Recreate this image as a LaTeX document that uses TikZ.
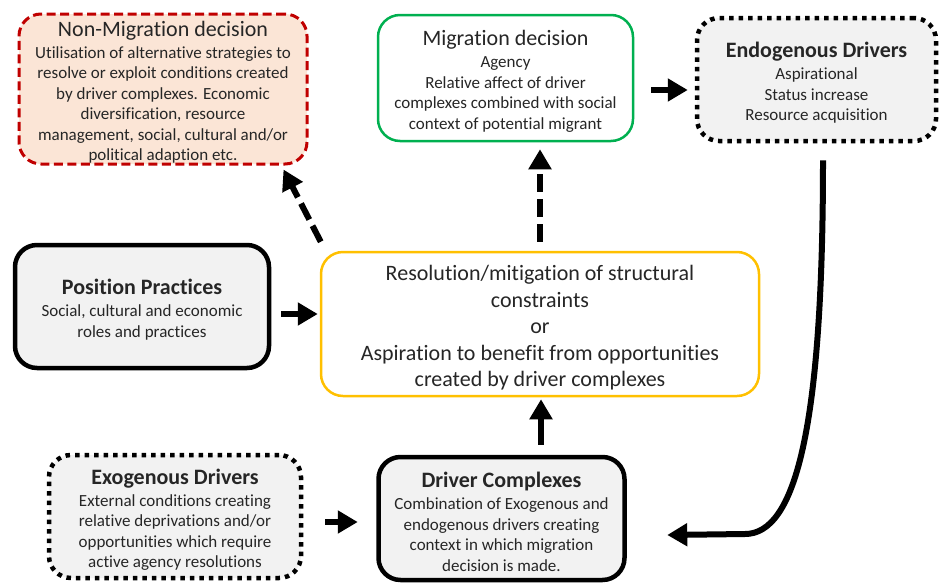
\documentclass[tikz,border=0pt]{standalone}
\usepackage{fontspec}
\setmainfont{Carlito}[Ligatures=CommonOff]
\usetikzlibrary{arrows.meta}

\definecolor{nmred}{HTML}{C00000}
\definecolor{nmfill}{HTML}{FBE5D6}
\definecolor{mgreen}{HTML}{00B050}
\definecolor{cyellow}{HTML}{FFC000}
\definecolor{boxgray}{HTML}{F2F2F2}
\definecolor{txtgray}{HTML}{262626}

\newcommand{\ttl}{\fontsize{22}{24}\selectfont\rule{0pt}{22pt}}
\newcommand{\bodytxt}{\fontsize{17}{20.5}\selectfont}
\newcommand{\bigtxt}{\fontsize{22}{26.5}\selectfont}

\begin{document}
\begin{tikzpicture}[x=1pt,y=-1pt,>={Triangle[length=20pt,width=22pt]},
  every node/.style={text=txtgray},
  base box/.style={rounded corners=22pt,align=center,inner sep=0pt,font=\bodytxt},
  solid box/.style={base box,draw=black,line width=4.5pt,fill=boxgray},
  dot box/.style={base box,draw=black,line width=4.5pt,fill=boxgray,dash pattern=on 4.5pt off 5pt},
  flow/.style={->,line width=6pt},
  dash flow/.style={flow,dash pattern=on 18pt off 7pt}]

  \useasboundingbox (0,0) rectangle (945,584);

  \node[base box,draw=nmred,fill=nmfill,line width=3pt,dash pattern=on 9pt off 4.5pt,
    minimum width=288pt,minimum height=150pt] (nonmig) at (163,89)
    {{\ttl Non-Migration decision}\\[1.5pt] Utilisation of alternative strategies to\\
     resolve or exploit conditions created\\ by driver complexes. Economic\\
     diversification, resource\\ management, social, cultural and/or\\ political adaption etc.};
  \node[base box,draw=mgreen,fill=white,line width=2.5pt,
    minimum width=255pt,minimum height=126pt] (mig) at (505.5,78)
    {{\ttl Migration decision}\\[1.5pt] Agency\\ Relative affect of driver\\
     complexes combined with social\\ context of potential migrant};
  \node[dot box,minimum width=239pt,minimum height=123pt] (endo) at (816.5,79.5)
    {{\ttl\bfseries Endogenous Drivers}\\[1.5pt] Aspirational\\ Status increase\\ Resource acquisition};
  \node[solid box,minimum width=254pt,minimum height=123pt] (pos) at (142,306.5)
    {{\ttl\bfseries Position Practices}\\[1.5pt] Social, cultural and economic\\ roles and practices};
  \node[base box,draw=cyellow,fill=white,line width=2.5pt,font=\bigtxt,
    minimum width=438pt,minimum height=144pt] (res) at (540,324)
    {\rule{0pt}{23pt}Resolution/mitigation of structural\\ constraints\\ or\\
     Aspiration to benefit from opportunities\\ created by driver complexes};
  \node[dot box,minimum width=252pt,minimum height=123pt] (exo) at (175,516.5)
    {{\ttl\bfseries Exogenous Drivers}\\[1.5pt] External conditions creating\\
     relative deprivations and/or\\ opportunities which require\\ active agency resolutions};
  \node[solid box,minimum width=246pt,minimum height=123pt] (drv) at (501.5,518.5)
    {{\ttl\bfseries Driver Complexes}\\[1.5pt] Combination of Exogenous and\\
     endogenous drivers creating\\ context in which migration\\ decision is made.};

  \coordinate (bend) at (745,534);

  \draw[flow,shorten <=10pt,shorten >=2pt] ([yshift=-7.5pt]pos.east) -- ([yshift=-7.5pt]pos.east -| res.west);
  \draw[flow,shorten <=22pt,shorten >=18.5pt] ([yshift=-5.5pt]exo.east) -- ([yshift=-5.5pt]exo.east -| drv.west);
  \draw[flow,shorten <=10pt,shorten >=2pt] ([xshift=39.5pt]drv.north) -- ([xshift=39.5pt]drv.north |- res.south);
  \draw[dash flow,shorten <=9pt,shorten >=7pt] (res.north) -- (res.north |- mig.south);
  \draw[dash flow] ([shift={(1,-9)}]res.north west) -- ([shift={(-25,4)}]nonmig.south east);
  \draw[flow,shorten <=17pt,shorten >=7pt] ([yshift=-12pt]mig.east) -- ([yshift=-12pt]mig.east -| endo.west);
  \draw[flow] ([shift={(6.5,17)}]endo.south) .. controls +(0,270) and +(50,0) .. (bend)
    -- ([shift={(40.5,16.5)}]drv.east);

\end{tikzpicture}
\end{document}
